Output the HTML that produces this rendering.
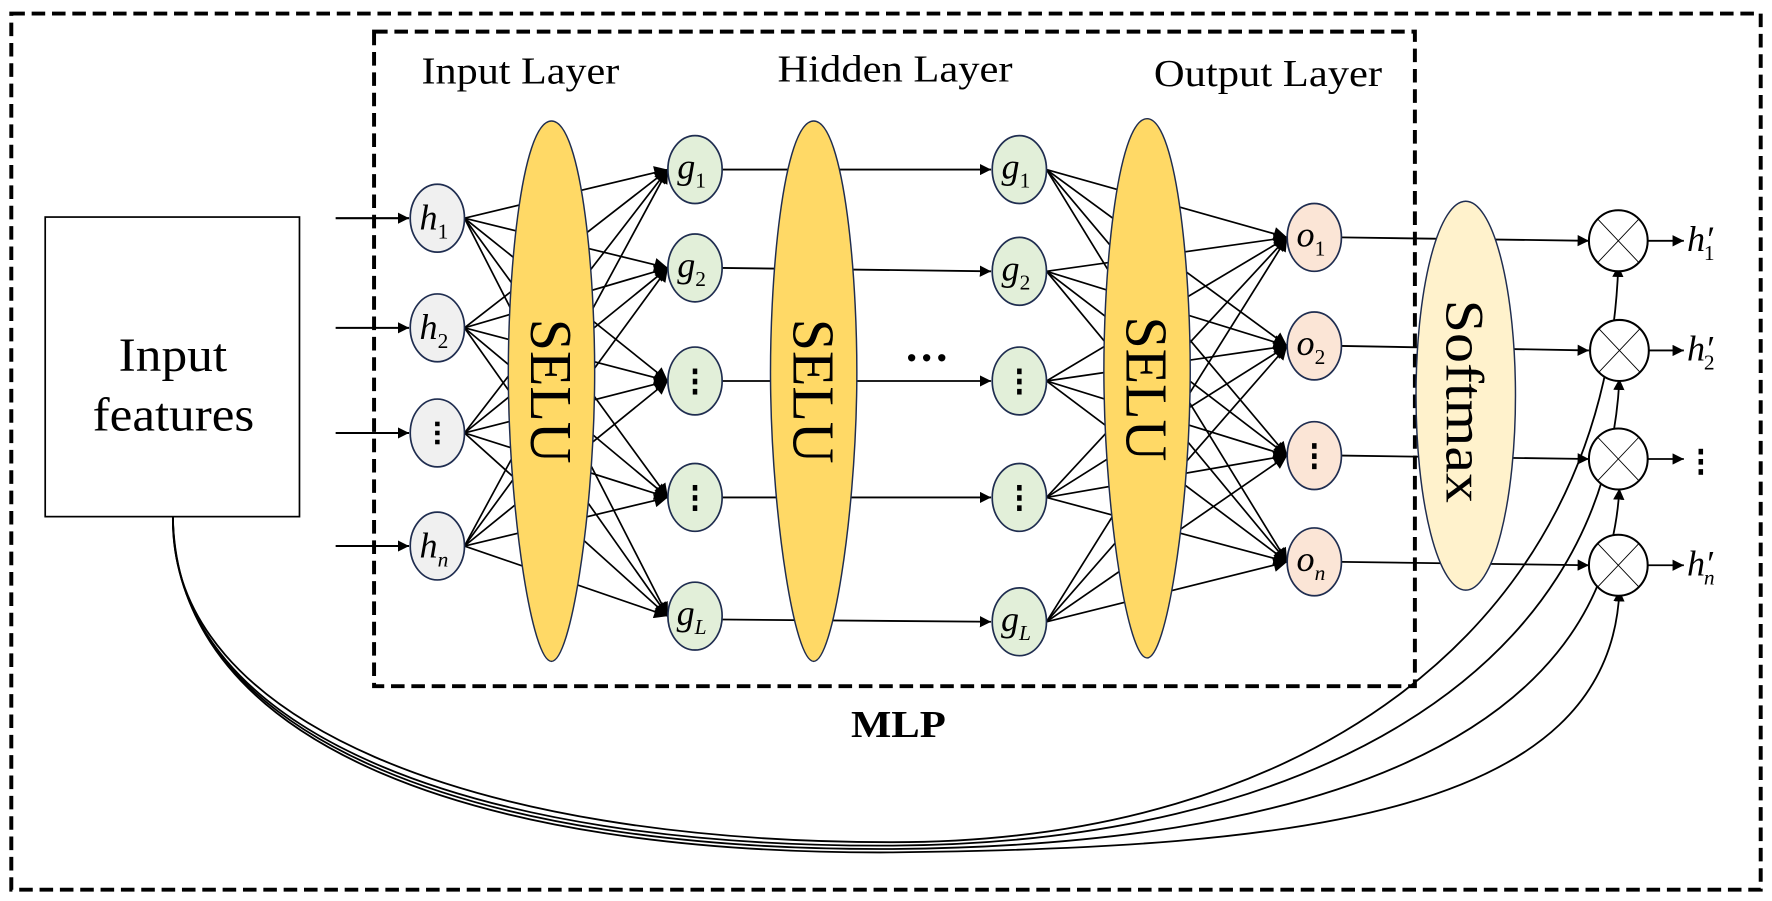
<!DOCTYPE html>
<html><head><meta charset="utf-8"><style>
html,body{margin:0;padding:0;background:#fff;}
svg{display:block;}
text{font-family:"Liberation Serif",serif;}
</style></head><body>
<svg width="1772" height="901" viewBox="0 0 1568 797" preserveAspectRatio="none" xmlns="http://www.w3.org/2000/svg">
<defs>
<marker id="a" viewBox="0 0 10 10" refX="10" refY="5" markerWidth="10" markerHeight="10" markerUnits="userSpaceOnUse" orient="auto"><path d="M0,0 L10,5 L0,10 z" fill="#000"/></marker>
<marker id="b" viewBox="0 0 10 10" refX="10" refY="5" markerWidth="14" markerHeight="12" markerUnits="userSpaceOnUse" orient="auto"><path d="M0,0 L10,5 L0,10 z" fill="#000"/></marker>
</defs>
<rect x="0" y="0" width="1568" height="797" fill="#fff"/>
<rect x="10" y="12" width="1548" height="775" fill="none" stroke="#000" stroke-width="3.5" stroke-dasharray="12,6"/>
<rect x="331" y="28" width="921" height="579" fill="none" stroke="#000" stroke-width="3.5" stroke-dasharray="12,6"/>
<text x="373" y="74" font-size="34" textLength="175" lengthAdjust="spacingAndGlyphs">Input Layer</text>
<text x="688" y="72" font-size="34" textLength="208" lengthAdjust="spacingAndGlyphs">Hidden Layer</text>
<text x="1021" y="76" font-size="34" textLength="202" lengthAdjust="spacingAndGlyphs">Output Layer</text>
<text x="753" y="652" font-size="34" font-weight="bold" textLength="84" lengthAdjust="spacingAndGlyphs">MLP</text>
<rect x="40" y="192" width="225" height="265" fill="#fff" stroke="#000" stroke-width="1.5"/>
<text x="105" y="328" font-size="42" textLength="96" lengthAdjust="spacingAndGlyphs">Input</text>
<text x="82" y="381" font-size="42" textLength="143" lengthAdjust="spacingAndGlyphs">features</text>
<g fill="none" stroke="#000" stroke-width="1.6">
<path d="M153,457 C150,640 420,745 790,745 C1150,745 1420,560 1432,235" marker-end="url(#a)"/>
<path d="M153,457 C152,650 420,750 790,748 C1150,746 1420,600 1433,335" marker-end="url(#a)"/>
<path d="M153,457 C154,655 420,753 790,751 C1150,748 1420,660 1433,432" marker-end="url(#a)"/>
<path d="M153,457 C156,660 420,756 790,754 C1150,750 1425,720 1433,522" marker-end="url(#a)"/>
</g>
<g stroke="#000" stroke-width="1.8" marker-end="url(#a)">
<line x1="297" y1="193" x2="362" y2="193"/>
<line x1="297" y1="290" x2="362" y2="290"/>
<line x1="297" y1="383" x2="362" y2="383"/>
<line x1="297" y1="483" x2="362" y2="483"/>
</g>
<g stroke="#000" stroke-width="1.5" marker-end="url(#b)">
<line x1="411" y1="193" x2="591" y2="150"/><line x1="411" y1="193" x2="591" y2="237"/><line x1="411" y1="193" x2="591" y2="337"/><line x1="411" y1="193" x2="591" y2="440"/><line x1="411" y1="193" x2="591" y2="545"/>
<line x1="411" y1="290" x2="591" y2="150"/><line x1="411" y1="290" x2="591" y2="237"/><line x1="411" y1="290" x2="591" y2="337"/><line x1="411" y1="290" x2="591" y2="440"/><line x1="411" y1="290" x2="591" y2="545"/>
<line x1="411" y1="383" x2="591" y2="150"/><line x1="411" y1="383" x2="591" y2="237"/><line x1="411" y1="383" x2="591" y2="337"/><line x1="411" y1="383" x2="591" y2="440"/><line x1="411" y1="383" x2="591" y2="545"/>
<line x1="411" y1="483" x2="591" y2="150"/><line x1="411" y1="483" x2="591" y2="237"/><line x1="411" y1="483" x2="591" y2="337"/><line x1="411" y1="483" x2="591" y2="440"/><line x1="411" y1="483" x2="591" y2="545"/>
</g>
<g stroke="#000" stroke-width="1.6" marker-end="url(#a)">
<line x1="639" y1="150" x2="877" y2="150"/>
<line x1="639" y1="237" x2="877" y2="240"/>
<line x1="639" y1="337" x2="877" y2="337"/>
<line x1="639" y1="440" x2="877" y2="440"/>
<line x1="639" y1="548" x2="877" y2="550"/>
</g>
<g stroke="#000" stroke-width="1.5" marker-end="url(#b)">
<line x1="926" y1="150" x2="1139" y2="210"/><line x1="926" y1="150" x2="1139" y2="306"/><line x1="926" y1="150" x2="1139" y2="403"/><line x1="926" y1="150" x2="1139" y2="497"/>
<line x1="926" y1="240" x2="1139" y2="210"/><line x1="926" y1="240" x2="1139" y2="306"/><line x1="926" y1="240" x2="1139" y2="403"/><line x1="926" y1="240" x2="1139" y2="497"/>
<line x1="926" y1="337" x2="1139" y2="210"/><line x1="926" y1="337" x2="1139" y2="306"/><line x1="926" y1="337" x2="1139" y2="403"/><line x1="926" y1="337" x2="1139" y2="497"/>
<line x1="926" y1="440" x2="1139" y2="210"/><line x1="926" y1="440" x2="1139" y2="306"/><line x1="926" y1="440" x2="1139" y2="403"/><line x1="926" y1="440" x2="1139" y2="497"/>
<line x1="926" y1="550" x2="1139" y2="210"/><line x1="926" y1="550" x2="1139" y2="306"/><line x1="926" y1="550" x2="1139" y2="403"/><line x1="926" y1="550" x2="1139" y2="497"/>
</g>
<g stroke="#000" stroke-width="1.6" marker-end="url(#a)">
<line x1="1187" y1="210" x2="1406" y2="213"/>
<line x1="1187" y1="306" x2="1406" y2="310"/>
<line x1="1187" y1="403" x2="1406" y2="406"/>
<line x1="1187" y1="497" x2="1406" y2="500"/>
<line x1="1458" y1="213" x2="1490" y2="213"/>
<line x1="1459" y1="310" x2="1490" y2="310"/>
<line x1="1458" y1="406" x2="1490" y2="406"/>
<line x1="1458" y1="500" x2="1490" y2="500"/>
</g>
<g stroke="#1f2d50" stroke-width="1.3">
<path d="M488,107 C515,107 528,250 526,350 C524,460 505,585 488,585 C471,585 452,460 450,350 C448,250 461,107 488,107 z" fill="#ffd966"/>
<path d="M720,107 C747,107 760,250 758,350 C756,460 737,585 720,585 C703,585 684,460 682,350 C680,250 693,107 720,107 z" fill="#ffd966"/>
<path d="M1015,105 C1042,105 1055,250 1053,348 C1051,458 1032,582 1015,582 C998,582 979,458 977,348 C975,250 988,105 1015,105 z" fill="#ffd966"/>
<ellipse cx="1297" cy="350" rx="44" ry="172" fill="#fff2cc"/>
</g>
<g font-size="52">
<text transform="translate(488,346) rotate(90)" x="-64" dy="18" textLength="128" lengthAdjust="spacingAndGlyphs">SELU</text>
<text transform="translate(720,346) rotate(90)" x="-64" dy="18" textLength="128" lengthAdjust="spacingAndGlyphs">SELU</text>
<text transform="translate(1015,344) rotate(90)" x="-64" dy="18" textLength="128" lengthAdjust="spacingAndGlyphs">SELU</text>
<text transform="translate(1297,355) rotate(90)" x="-90" dy="17" font-size="48" textLength="180" lengthAdjust="spacingAndGlyphs">Softmax</text>
</g>
<text x="820" y="330" font-size="40" font-weight="bold" text-anchor="middle">···</text>
<g stroke="#1f2d50" stroke-width="1.5" fill="#f0f0f0">
<ellipse cx="387" cy="193" rx="24" ry="30"/><ellipse cx="387" cy="290" rx="24" ry="30"/><ellipse cx="387" cy="383" rx="24" ry="30"/><ellipse cx="387" cy="483" rx="24" ry="30"/>
</g>
<g stroke="#1f2d50" stroke-width="1.5" fill="#e2efd9">
<ellipse cx="615" cy="150" rx="24" ry="30"/><ellipse cx="615" cy="237" rx="24" ry="30"/><ellipse cx="615" cy="337" rx="24" ry="30"/><ellipse cx="615" cy="440" rx="24" ry="30"/><ellipse cx="615" cy="545" rx="24" ry="30"/>
<ellipse cx="902" cy="150" rx="24" ry="30"/><ellipse cx="902" cy="240" rx="24" ry="30"/><ellipse cx="902" cy="337" rx="24" ry="30"/><ellipse cx="902" cy="440" rx="24" ry="30"/><ellipse cx="902" cy="550" rx="24" ry="30"/>
</g>
<g stroke="#1f2d50" stroke-width="1.5" fill="#fbe5d6">
<ellipse cx="1163" cy="210" rx="24" ry="30"/><ellipse cx="1163" cy="306" rx="24" ry="30"/><ellipse cx="1163" cy="403" rx="24" ry="30"/><ellipse cx="1163" cy="497" rx="24" ry="30"/>
</g>
<g stroke="#000" fill="#fff">
<g stroke-width="1.8"><ellipse cx="1432" cy="213" rx="26" ry="27"/><ellipse cx="1433" cy="310" rx="26" ry="27"/><ellipse cx="1432" cy="406" rx="26" ry="27"/><ellipse cx="1432" cy="500" rx="26" ry="27"/></g>
<g stroke-width="0.8" fill="none">
<path d="M1414,194 L1450,232 M1450,194 L1414,232"/>
<path d="M1415,291 L1451,329 M1451,291 L1415,329"/>
<path d="M1414,387 L1450,425 M1450,387 L1414,425"/>
<path d="M1414,481 L1450,519 M1450,481 L1414,519"/>
</g>
</g>
<g font-size="32" font-style="italic" text-anchor="middle">
<text x="384" y="203">h<tspan font-size="19" font-style="normal" dy="8">1</tspan></text>
<text x="384" y="300">h<tspan font-size="19" font-style="normal" dy="8">2</tspan></text>
<text x="384" y="493">h<tspan font-size="19" dy="8">n</tspan></text>
<text x="612" y="158">g<tspan font-size="19" font-style="normal" dy="8">1</tspan></text>
<text x="612" y="245">g<tspan font-size="19" font-style="normal" dy="8">2</tspan></text>
<text x="612" y="553">g<tspan font-size="19" dy="8">L</tspan></text>
<text x="899" y="158">g<tspan font-size="19" font-style="normal" dy="8">1</tspan></text>
<text x="899" y="248">g<tspan font-size="19" font-style="normal" dy="8">2</tspan></text>
<text x="899" y="558">g<tspan font-size="19" dy="8">L</tspan></text>
<text x="1160" y="218">o<tspan font-size="19" font-style="normal" dy="8">1</tspan></text>
<text x="1160" y="314">o<tspan font-size="19" font-style="normal" dy="8">2</tspan></text>
<text x="1160" y="505">o<tspan font-size="19" dy="8">n</tspan></text>
<text x="1505" y="222">h′<tspan font-size="19" font-style="normal" dy="8" dx="-8">1</tspan></text>
<text x="1505" y="319">h′<tspan font-size="19" font-style="normal" dy="8" dx="-8">2</tspan></text>
<text x="1505" y="509">h′<tspan font-size="19" dy="8" dx="-8">n</tspan></text>
</g>
<g fill="#000">
<rect x="385" y="373" width="4" height="4"/><rect x="385" y="381" width="4" height="4"/><rect x="385" y="389" width="4" height="4"/>
<rect x="613" y="326" width="4" height="5"/><rect x="613" y="335" width="4" height="5"/><rect x="613" y="344" width="4" height="5"/>
<rect x="613" y="429" width="4" height="5"/><rect x="613" y="438" width="4" height="5"/><rect x="613" y="447" width="4" height="5"/>
<rect x="900" y="326" width="4" height="5"/><rect x="900" y="335" width="4" height="5"/><rect x="900" y="344" width="4" height="5"/>
<rect x="900" y="429" width="4" height="5"/><rect x="900" y="438" width="4" height="5"/><rect x="900" y="447" width="4" height="5"/>
<rect x="1161" y="392" width="4" height="5"/><rect x="1161" y="401" width="4" height="5"/><rect x="1161" y="410" width="4" height="5"/>
<rect x="1503" y="397" width="4" height="5"/><rect x="1503" y="406" width="4" height="5"/><rect x="1503" y="415" width="4" height="5"/>
</g>
</svg>
</body></html>
